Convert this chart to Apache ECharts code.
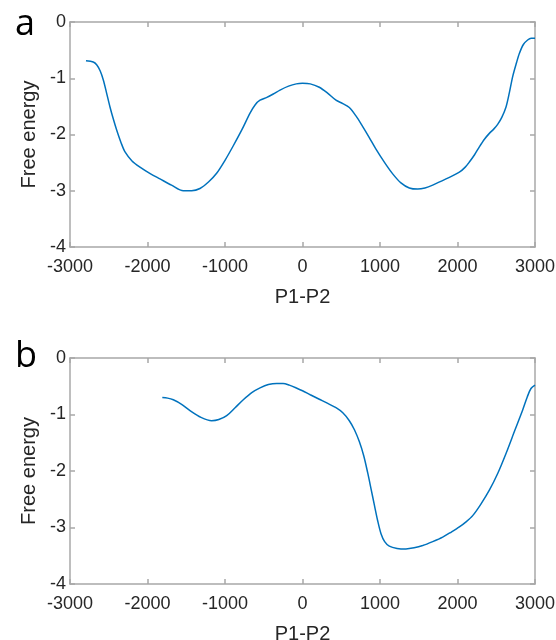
<!DOCTYPE html>
<html>
<head>
<meta charset="utf-8">
<script src="https://cdn.jsdelivr.net/npm/echarts@6/dist/echarts.min.js"></script>
<style>
  html, body { margin: 0; padding: 0; background: #fff; }
  #chart { width: 556px; height: 640px; }
</style>
</head>
<body>
<div id="chart"></div>
<script>
// panel a: P1-P2 vs free energy
const xA = [-2794, -2700, -2656, -2610, -2570, -2530, -2484, -2440, -2398, -2340, -2290, -2200, -2097, -1960, -1839, -1690, -1538, -1430, -1323, -1210, -1108, -1000, -893, -780, -677, -610, -548, -460, -377, -290, -180, -80, 0, 100, 217, 320, 432, 520, 604, 690, 777, 860, 948, 1060, 1164, 1270, 1378, 1486, 1580, 1680, 1852, 2024, 2100, 2153, 2220, 2282, 2350, 2411, 2470, 2518, 2570, 2626, 2670, 2712, 2760, 2798, 2850, 2905, 2950, 3000];
const yA = [-0.69, -0.71, -0.76, -0.87, -1.03, -1.25, -1.51, -1.73, -1.92, -2.15, -2.31, -2.47, -2.58, -2.70, -2.79, -2.90, -3.00, -3.00, -2.96, -2.84, -2.69, -2.46, -2.20, -1.91, -1.62, -1.47, -1.39, -1.34, -1.28, -1.21, -1.14, -1.10, -1.09, -1.10, -1.16, -1.26, -1.39, -1.45, -1.52, -1.67, -1.86, -2.05, -2.26, -2.50, -2.70, -2.86, -2.95, -2.97, -2.95, -2.90, -2.79, -2.67, -2.58, -2.49, -2.36, -2.22, -2.08, -1.98, -1.90, -1.82, -1.70, -1.51, -1.25, -0.97, -0.73, -0.56, -0.40, -0.32, -0.29, -0.29];

// panel b
const xB = [-1809, -1740, -1667, -1560, -1452, -1310, -1172, -1080, -978, -870, -764, -650, -548, -440, -333, -250, -170, -80, 0, 100, 217, 320, 432, 520, 604, 670, 733, 790, 841, 885, 927, 970, 1013, 1060, 1120, 1220, 1335, 1440, 1551, 1680, 1809, 1920, 2024, 2110, 2196, 2300, 2411, 2520, 2626, 2740, 2841, 2900, 2948, 3000];
const yB = [-0.70, -0.71, -0.74, -0.82, -0.93, -1.05, -1.11, -1.09, -1.02, -0.88, -0.74, -0.61, -0.53, -0.47, -0.45, -0.45, -0.48, -0.53, -0.58, -0.65, -0.73, -0.80, -0.88, -0.97, -1.11, -1.27, -1.48, -1.73, -2.03, -2.32, -2.60, -2.88, -3.11, -3.25, -3.33, -3.37, -3.38, -3.36, -3.32, -3.25, -3.17, -3.08, -2.99, -2.90, -2.79, -2.59, -2.34, -2.04, -1.69, -1.28, -0.92, -0.69, -0.54, -0.48];

const xTicks = [-3000, -2000, -1000, 0, 1000, 2000, 3000];
const yTicks = [-4, -3, -2, -1, 0];
const panelLabels = ['a', 'b'];

const textColor = '#262626';
const axisColor = '#a8a8a8';
const lineColor = '#0072bd';
const fontFamily = 'Arial, "Liberation Sans", sans-serif';

const grids = [
  { left: 70, top: 22, width: 465, height: 225 },
  { left: 70, top: 358, width: 465, height: 226 },
].map((g) => ({ ...g, outerBoundsMode: 'none', containLabel: false }));

const xAxes = [];
const yAxes = [];
grids.forEach((g, i) => {
  // bottom axis carries labels, top one only mirrors the box and ticks
  ['bottom', 'top'].forEach((pos) => {
    xAxes.push({
      gridIndex: i,
      type: 'value',
      position: pos,
      min: xTicks[0],
      max: xTicks[xTicks.length - 1],
      interval: 1000,
      splitLine: { show: false },
      axisLine: { show: true, onZero: false, lineStyle: { color: axisColor, width: 1.5 } },
      axisTick: { show: true, inside: true, length: 5, lineStyle: { color: axisColor, width: 1.5 } },
      name: pos === 'bottom' ? 'P1-P2' : '',
      nameLocation: 'middle',
      nameGap: 40,
      nameTextStyle: { color: textColor, fontSize: 20, fontFamily },
      axisLabel: { show: pos === 'bottom', color: textColor, fontSize: 18, fontFamily, margin: 11, formatter: (v) => String(v) },
    });
  });
  ['left', 'right'].forEach((pos) => {
    yAxes.push({
      gridIndex: i,
      type: 'value',
      position: pos,
      min: yTicks[0],
      max: yTicks[yTicks.length - 1],
      interval: 1,
      splitLine: { show: false },
      axisLine: { show: true, onZero: false, lineStyle: { color: axisColor, width: 1.5 } },
      axisTick: { show: true, inside: true, length: 5, lineStyle: { color: axisColor, width: 1.5 } },
      name: pos === 'left' ? 'Free energy' : '',
      nameLocation: 'middle',
      nameGap: 25,
      nameTextStyle: { color: textColor, fontSize: 20, fontFamily },
      axisLabel: { show: pos === 'left', color: textColor, fontSize: 18, fontFamily, margin: 4, formatter: (v) => String(v) },
    });
  });
});

const chart = echarts.init(document.getElementById('chart'));
chart.setOption({
  animation: false,
  title: panelLabels.map((t, i) => ({
    text: t,
    left: 10,
    top: i === 0 ? 2 : 334,
    textStyle: { color: '#000', fontSize: 36, fontWeight: 'normal', fontFamily: '"Open Sans", sans-serif' },
  })),
  grid: grids,
  xAxis: xAxes,
  yAxis: yAxes,
  series: [
    {
      type: 'line',
      xAxisIndex: 0,
      yAxisIndex: 0,
      data: xA.map((x, k) => [x, yA[k]]),
      showSymbol: false,
      smooth: 0.3,
      lineStyle: { color: lineColor, width: 1.5 },
    },
    {
      type: 'line',
      xAxisIndex: 2,
      yAxisIndex: 2,
      data: xB.map((x, k) => [x, yB[k]]),
      showSymbol: false,
      smooth: 0.3,
      lineStyle: { color: lineColor, width: 1.5 },
    },
  ],
});
</script>
</body>
</html>
